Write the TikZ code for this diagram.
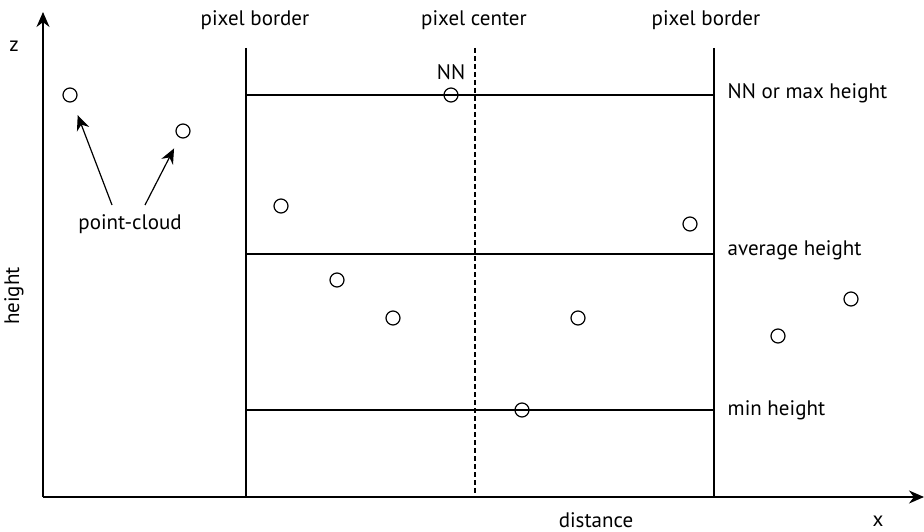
\documentclass[tikz,border=0pt]{standalone}
\usepackage{fontspec}
\setmainfont{PT Sans}
\usetikzlibrary{arrows.meta}

\begin{document}
\begin{tikzpicture}[x=1pt,y=-1pt,>={Stealth[length=15pt,width=13pt]},line width=1.4pt,
  pt node/.style={circle,draw,line width=1.2pt,minimum size=14pt,inner sep=0pt},
  lbl/.style={font=\fontsize{21}{24}\selectfont,inner sep=0pt}]
            \useasboundingbox (0,0) rectangle (924,532);

            % axes
            \coordinate (o) at (43,497);
            \coordinate (xend) at (924,497);
            \coordinate (zend) at (43,12);
            \draw[->] (o) -- (xend);
            \draw[->] (o) -- (zend);

            % pixel borders and center
            \coordinate (bl) at (246,48);
            \coordinate (br) at (714,48);
            \coordinate (c) at (475,48);
            \draw (bl) -- (bl |- o);
            \draw (br) -- (br |- o);
            \draw[dash pattern=on 5pt off 3pt,line width=1.2pt] (c) -- (c |- o);

            % height levels
            \draw (246,95) -- (714,95);
            \draw (246,254) -- (714,254);
            \draw (246,410) -- (714,410);

            % labels
            \node[lbl] (b1) at (255,20) {pixel border};
            \node[lbl] (pc) at (474,20) {pixel center};
            \node[lbl] (b2) at (706,20) {pixel border};
            \node[lbl] (nn) at (451,72) {NN};
            \node[lbl,anchor=west] (lmax) at (727,93) {NN or max height};
            \node[lbl,anchor=west] (lavg) at (727,250) {average height};
            \node[lbl,anchor=west] (lmin) at (727,410) {min height};
            \node[lbl] (dist) at (596,520) {distance};
            \node[lbl] (xl) at (878,521) {x};
            \node[lbl] (zl) at (14,46) {z};
            \node[lbl,rotate=90] (hl) at (14,296) {height};
            \node[lbl] (cloud) at (130,224) {point-cloud};

            % points
            \node[pt node] (1) at (70,95) {};
            \node[pt node] (2) at (183,131) {};
            \node[pt node] (3) at (281,206) {};
            \node[pt node] (4) at (337,280) {};
            \node[pt node] (5) at (393,318) {};
            \node[pt node] (6) at (451,95) {};
            \node[pt node] (7) at (690,224) {};
            \node[pt node] (8) at (578,318) {};
            \node[pt node] (9) at (522,410) {};
            \node[pt node] (10) at (778,336) {};
            \node[pt node] (11) at (851,299) {};

            \coordinate (a1) at (112,205);
            \coordinate (a2) at (145,205);
            \draw[->,line width=1.2pt,shorten >=14pt] (a1) to (1);
            \draw[->,line width=1.2pt,shorten >=12pt] (a2) to (2);

            ;
        \end{tikzpicture}
\end{document}
